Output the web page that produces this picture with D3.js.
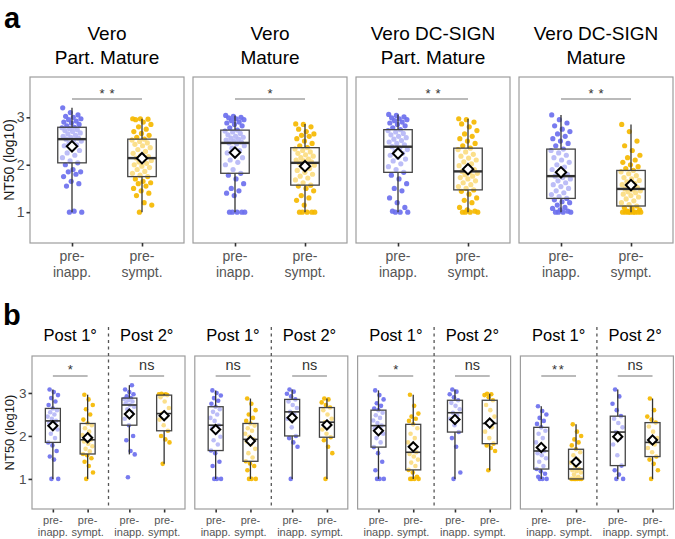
<!DOCTYPE html>
<html><head><meta charset="utf-8">
<script src="https://cdn.jsdelivr.net/npm/d3@7"></script>
<style>body{margin:0;background:#fff} svg{display:block;font-family:"Liberation Sans",Arial,sans-serif}</style>
</head><body><svg id="c" width="675" height="539"></svg>
<script>
// ---------- labels ----------
const groups = ["pre-inapp.", "pre-sympt."];
const groupLabelLines = [["pre-", "inapp."], ["pre-", "sympt."]];
const facetTitlesA = [["Vero", "Part. Mature"], ["Vero", "Mature"], ["Vero DC-SIGN", "Part. Mature"], ["Vero DC-SIGN", "Mature"]];
const periodTitles = ["Post 1°", "Post 2°"];
const yTicks = [1, 2, 3];
const yTitle = "NT50 (log10)";
const sigA = ["**", "*", "**", "**"];
const sigB = [["*", "ns"], ["ns", "ns"], ["*", "ns"], ["**", "ns"]];

// ---------- panel a values (NT50, log10) ----------
const aVeroPartInapp = [1.0,1.0,1.02,1.55,1.6,1.65,1.75,1.8,1.85,1.85,1.9,2.0,2.04,2.08,2.15,2.2,2.25,2.3,2.35,2.4,2.42,2.45,2.5,2.52,2.54,2.56,2.58,2.6,2.62,2.65,2.67,2.7,2.72,2.74,2.76,2.78,2.79,2.82,2.85,2.88,2.9,2.92,2.95,2.97,3.0,3.02,3.05,3.1,3.2];
const aVeroPartSympt = [1.0,1.15,1.2,1.35,1.4,1.45,1.5,1.55,1.6,1.62,1.65,1.7,1.75,1.78,1.82,1.86,1.9,1.94,1.97,2.0,2.03,2.06,2.09,2.12,2.14,2.17,2.2,2.24,2.28,2.32,2.36,2.4,2.43,2.46,2.49,2.52,2.54,2.58,2.62,2.66,2.7,2.75,2.8,2.85,2.9,2.95,2.96,2.97,2.97];
const aVeroMatInapp = [1.0,1.0,1.0,1.0,1.0,1.35,1.4,1.45,1.5,1.6,1.7,1.78,1.82,1.9,2.0,2.05,2.1,2.15,2.2,2.25,2.3,2.35,2.4,2.44,2.46,2.48,2.5,2.52,2.54,2.56,2.58,2.6,2.63,2.66,2.69,2.71,2.73,2.78,2.82,2.85,2.88,2.9,2.93,2.95,2.97,2.99,3.0,3.02,3.04];
const aVeroMatSympt = [1.0,1.0,1.0,1.0,1.0,1.15,1.25,1.3,1.35,1.45,1.5,1.55,1.57,1.62,1.68,1.72,1.76,1.8,1.84,1.88,1.92,1.96,1.99,2.02,2.04,2.06,2.08,2.1,2.12,2.15,2.18,2.21,2.24,2.27,2.3,2.33,2.36,2.4,2.45,2.5,2.55,2.6,2.62,2.65,2.7,2.75,2.8,2.85,2.86];
const aDcPartInapp = [1.0,1.0,1.0,1.02,1.1,1.2,1.3,1.45,1.5,1.6,1.7,1.78,1.84,1.9,1.96,2.02,2.08,2.12,2.16,2.2,2.24,2.28,2.32,2.35,2.38,2.42,2.45,2.48,2.51,2.54,2.57,2.6,2.63,2.66,2.69,2.72,2.74,2.78,2.82,2.85,2.88,2.9,2.93,2.95,2.97,2.99,3.01,3.04,3.06];
const aDcPartSympt = [1.0,1.0,1.0,1.0,1.02,1.05,1.1,1.2,1.25,1.3,1.38,1.44,1.47,1.5,1.54,1.58,1.62,1.66,1.7,1.73,1.76,1.79,1.82,1.84,1.86,1.9,1.94,1.98,2.02,2.06,2.1,2.14,2.18,2.22,2.27,2.32,2.35,2.4,2.45,2.5,2.55,2.6,2.65,2.72,2.8,2.86,2.9,2.95,2.97];
const aDcMatInapp = [1.0,1.0,1.0,1.0,1.02,1.05,1.08,1.1,1.15,1.2,1.22,1.26,1.29,1.33,1.37,1.41,1.45,1.5,1.54,1.58,1.62,1.66,1.7,1.73,1.76,1.8,1.85,1.9,1.95,2.0,2.05,2.1,2.15,2.2,2.25,2.3,2.33,2.4,2.45,2.5,2.55,2.6,2.65,2.7,2.75,2.82,2.88,2.95,3.05];
const aDcMatSympt = [1.0,1.0,1.0,1.0,1.0,1.0,1.0,1.0,1.02,1.05,1.08,1.1,1.13,1.16,1.2,1.24,1.28,1.32,1.35,1.38,1.41,1.43,1.45,1.47,1.49,1.52,1.55,1.58,1.61,1.64,1.67,1.7,1.73,1.77,1.81,1.85,1.88,1.92,1.96,2.0,2.05,2.1,2.15,2.2,2.3,2.4,2.5,2.7,2.85];

// ---------- panel b values ----------
const bVeroPartP1Inapp = [1.0,1.0,1.45,1.52,1.65,1.78,1.85,1.95,2.05,2.15,2.25,2.3,2.35,2.4,2.45,2.5,2.55,2.6,2.64,2.72,2.8,2.88,2.95,3.02,3.08];
const bVeroPartP1Sympt = [1.0,1.15,1.3,1.4,1.48,1.55,1.58,1.64,1.7,1.76,1.82,1.87,1.91,1.96,2.02,2.1,2.18,2.25,2.29,2.38,2.5,2.62,2.72,2.85,2.96];
const bVeroPartP2Inapp = [1.04,1.57,1.65,1.9,2.0,2.25,2.4,2.55,2.62,2.68,2.72,2.76,2.8,2.83,2.86,2.88,2.92,2.97,3.02,3.08,3.18];
const bVeroPartP2Sympt = [1.35,1.85,1.92,2.0,2.12,2.25,2.38,2.45,2.52,2.65,2.8,2.9,2.95,2.96,2.97,2.97,2.98];
const bVeroMatP1Inapp = [1.0,1.0,1.0,1.3,1.4,1.6,1.66,1.8,1.9,1.98,2.08,2.18,2.25,2.35,2.42,2.5,2.56,2.62,2.68,2.75,2.82,2.88,2.94,3.0,3.06];
const bVeroMatP1Sympt = [1.0,1.0,1.0,1.2,1.3,1.36,1.41,1.5,1.6,1.7,1.8,1.87,1.92,1.98,2.05,2.12,2.18,2.24,2.29,2.35,2.42,2.5,2.6,2.75,2.87];
const bVeroMatP2Inapp = [1.0,1.75,1.85,1.95,2.0,2.2,2.4,2.5,2.56,2.65,2.72,2.8,2.85,2.92,2.98,3.03,3.08];
const bVeroMatP2Sympt = [1.0,1.6,1.75,1.9,1.97,2.05,2.15,2.25,2.32,2.4,2.5,2.6,2.66,2.72,2.78,2.85,2.87];
const bDcPartP1Inapp = [1.0,1.0,1.0,1.2,1.4,1.6,1.74,1.85,1.95,2.05,2.12,2.18,2.24,2.3,2.36,2.42,2.48,2.54,2.6,2.64,2.7,2.76,2.85,2.95,3.06];
const bDcPartP1Sympt = [1.0,1.0,1.0,1.0,1.05,1.15,1.21,1.3,1.38,1.45,1.52,1.58,1.62,1.72,1.85,1.95,2.05,2.18,2.27,2.35,2.4,2.45,2.52,2.7,2.96];
const bDcPartP2Inapp = [1.0,1.15,1.75,1.95,2.09,2.25,2.4,2.48,2.54,2.62,2.7,2.77,2.83,2.9,2.97,3.03,3.08];
const bDcPartP2Sympt = [1.2,1.65,1.72,1.78,1.82,1.95,2.1,2.2,2.29,2.45,2.6,2.72,2.83,2.9,2.95,2.97,2.98];
const bDcMatP1Inapp = [1.0,1.0,1.0,1.05,1.12,1.18,1.23,1.3,1.4,1.48,1.55,1.6,1.65,1.75,1.85,1.95,2.05,2.12,2.2,2.28,2.35,2.42,2.5,2.58,2.69];
const bDcMatP1Sympt = [1.0,1.0,1.0,1.0,1.0,1.0,1.0,1.05,1.1,1.15,1.18,1.2,1.23,1.3,1.38,1.45,1.55,1.62,1.69,1.78,1.85,1.92,2.0,2.1,2.27];
const bDcMatP2Inapp = [1.0,1.0,1.1,1.2,1.31,1.55,1.8,1.95,2.09,2.2,2.3,2.4,2.46,2.6,2.75,2.92,3.08];
const bDcMatP2Sympt = [1.0,1.2,1.35,1.45,1.52,1.62,1.72,1.8,1.85,1.95,2.1,2.22,2.31,2.38,2.45,2.6,2.87];

const panelAData = [
  [aVeroPartInapp, aVeroPartSympt], [aVeroMatInapp, aVeroMatSympt],
  [aDcPartInapp, aDcPartSympt], [aDcMatInapp, aDcMatSympt]];
const panelBData = [
  [[bVeroPartP1Inapp, bVeroPartP1Sympt], [bVeroPartP2Inapp, bVeroPartP2Sympt]],
  [[bVeroMatP1Inapp, bVeroMatP1Sympt], [bVeroMatP2Inapp, bVeroMatP2Sympt]],
  [[bDcPartP1Inapp, bDcPartP1Sympt], [bDcPartP2Inapp, bDcPartP2Sympt]],
  [[bDcMatP1Inapp, bDcMatP1Sympt], [bDcMatP2Inapp, bDcMatP2Sympt]]];

// ---------- drawing ----------
const colors = ["#6c70ee", "#f5b800"];
const svg = d3.select("#c");
const font = '"Liberation Sans", Arial, sans-serif';

function stats(v) {
  const s = v.slice().sort(d3.ascending);
  const q1 = d3.quantile(s, 0.25), med = d3.quantile(s, 0.5), q3 = d3.quantile(s, 0.75);
  const iqr = q3 - q1;
  const lo = d3.min(s.filter(d => d >= q1 - 1.5 * iqr));
  const hi = d3.max(s.filter(d => d <= q3 + 1.5 * iqr));
  return {q1, med, q3, lo, hi, mean: d3.mean(s)};
}
function jit(i) { return ((i * 0.6180339887 + 0.37) % 1) * 2 - 1; }

function drawGroup(g, values, cx, y, o) {
  const st = stats(values);
  g.append("g").selectAll("circle").data(values).join("circle")
    .attr("cx", (d, i) => cx + jit(i) * o.jit)
    .attr("cy", d => y(d)).attr("r", o.r)
    .attr("fill", o.color).attr("fill-opacity", 0.92);
  const ln = (y1, y2) => g.append("line").attr("x1", cx).attr("x2", cx)
    .attr("y1", y(y1)).attr("y2", y(y2)).attr("stroke", "#333").attr("stroke-width", 1.3);
  ln(st.hi, st.q3); ln(st.q1, st.lo);
  g.append("rect").attr("x", cx - o.bw / 2).attr("y", y(st.q3))
    .attr("width", o.bw).attr("height", y(st.q1) - y(st.q3))
    .attr("fill", "#fff").attr("fill-opacity", 0.5)
    .attr("stroke", "#444").attr("stroke-width", 1.3);
  g.append("line").attr("x1", cx - o.bw / 2).attr("x2", cx + o.bw / 2)
    .attr("y1", y(st.med)).attr("y2", y(st.med)).attr("stroke", "#333").attr("stroke-width", o.medW);
  const s = o.dia;
  g.append("path").attr("transform", `translate(${cx},${y(st.mean)})`)
    .attr("d", `M0,${-s}L${s},0L0,${s}L${-s},0Z`)
    .attr("fill", "#fff").attr("stroke", "#000").attr("stroke-width", 2);
}

function styleYAxis(ax, fs) {
  ax.select(".domain").remove();
  ax.selectAll(".tick line").attr("stroke", "#333").attr("stroke-width", 1.6);
  ax.selectAll(".tick text").attr("font-size", fs).attr("fill", "#4d4d4d").attr("font-family", font);
}
function drawXAxis(g, x, yPos, fs, l1, l2) {
  const ax = g.append("g").attr("transform", `translate(0,${yPos})`)
    .call(d3.axisBottom(x).tickSize(3.5).tickFormat(""));
  ax.select(".domain").remove();
  ax.selectAll(".tick line").attr("stroke", "#333").attr("stroke-width", 1.6);
  groups.forEach((gname, k) => {
    [l1, l2].forEach((off, j) => g.append("text").attr("x", x(gname)).attr("y", yPos + off)
      .attr("text-anchor", "middle").attr("font-size", fs).attr("fill", "#555")
      .attr("font-family", font).text(groupLabelLines[k][j]));
  });
}

// ----- panel a -----
const aTop = 77, aBot = 243, aW = 154;
const yA = d3.scaleLinear().domain([0.35, 3.85]).range([aBot, aTop]);
panelAData.forEach((pair, i) => {
  const x0 = 30 + i * 163;
  const g = svg.append("g");
  const x = d3.scalePoint().domain(groups).range([x0, x0 + aW]).padding(0.6);
  pair.forEach((vals, k) => drawGroup(g, vals, x(groups[k]), yA,
    {jit: 10, r: 2.6, color: colors[k], bw: 28.5, dia: 5.2, medW: 2.4}));
  g.append("rect").attr("x", x0).attr("y", aTop).attr("width", aW).attr("height", aBot - aTop)
    .attr("fill", "none").attr("stroke", "#9d9d9d").attr("stroke-width", 1.2);
  // significance
  const ly = 99;
  g.append("line").attr("x1", x(groups[0])).attr("x2", x(groups[1])).attr("y1", ly).attr("y2", ly)
    .attr("stroke", "#777").attr("stroke-width", 1.2);
  g.append("text").attr("x", (x(groups[0]) + x(groups[1])) / 2).attr("y", ly - 1)
    .attr("text-anchor", "middle").attr("font-size", 13).attr("fill", "#333")
    .attr("letter-spacing", sigA[i].length > 1 ? 5 : 0)
    .attr("dx", sigA[i].length > 1 ? 2.5 : 0)
    .text(sigA[i]);
  // facet title
  facetTitlesA[i].forEach((line, j) => g.append("text").attr("x", x0 + aW / 2).attr("y", 40 + j * 23.5)
    .attr("text-anchor", "middle").attr("font-size", 19).attr("fill", "#000").text(line));
  drawXAxis(g, x, aBot, 14, 17.5, 34);
  if (i === 0) {
    const ax = g.append("g").attr("transform", `translate(${x0},0)`)
      .call(d3.axisLeft(yA).tickValues(yTicks).tickSize(3.5).tickPadding(2).tickFormat(d3.format("d")));
    styleYAxis(ax, 14);
  }
});
svg.append("text").attr("x", 9).attr("y", (aTop + aBot) / 2).attr("transform", `rotate(-90,9,${(aTop + aBot) / 2})`)
  .attr("dy", "0.35em").attr("text-anchor", "middle").attr("font-size", 14).attr("fill", "#1a1a1a").text(yTitle);
svg.append("text").attr("x", 4).attr("y", 28).attr("font-size", 29).attr("font-weight", "bold").text("a");

// ----- panel b -----
const bTop = 356, bBot = 509, bW = 153;
const yB = d3.scaleLinear().domain([0.3, 3.86]).range([bBot, bTop]);
panelBData.forEach((halves, i) => {
  const x0 = 32 + i * 162.8;
  const g = svg.append("g");
  halves.forEach((pair, h) => {
    const hx0 = x0 + h * bW / 2;
    const x = d3.scalePoint().domain(groups).range([hx0, hx0 + bW / 2]).padding(0.6);
    pair.forEach((vals, k) => drawGroup(g, vals, x(groups[k]), yB,
      {jit: 5.5, r: 2.3, color: colors[k], bw: 15, dia: 4.6, medW: 1.6}));
    const ly = 376, lab = sigB[i][h];
    const isStar = lab.indexOf("*") >= 0;
    g.append("line").attr("x1", x(groups[0])).attr("x2", x(groups[1])).attr("y1", ly).attr("y2", ly)
      .attr("stroke", "#777").attr("stroke-width", 1.2);
    g.append("text").attr("x", (x(groups[0]) + x(groups[1])) / 2)
      .attr("y", isStar ? ly - 2 : ly - 6.5)
      .attr("text-anchor", "middle").attr("font-size", isStar ? 13 : 14.5).attr("fill", "#333")
      .attr("letter-spacing", isStar && lab.length > 1 ? 1.5 : 0)
      .text(lab);
    g.append("text").attr("x", hx0 + bW / 4).attr("y", 340.5).attr("text-anchor", "middle")
      .attr("font-size", 16.5).attr("fill", "#000").text(periodTitles[h]);
    drawXAxis(g, x, bBot, 11, 15, 27);
  });
  g.append("rect").attr("x", x0).attr("y", bTop).attr("width", bW).attr("height", bBot - bTop)
    .attr("fill", "none").attr("stroke", "#9d9d9d").attr("stroke-width", 1.2);
  g.append("line").attr("x1", x0 + bW / 2).attr("x2", x0 + bW / 2).attr("y1", 327).attr("y2", bBot)
    .attr("stroke", "#555").attr("stroke-width", 1.3).attr("stroke-dasharray", "3,3.5");
  if (i === 0) {
    const ax = g.append("g").attr("transform", `translate(${x0},0)`)
      .call(d3.axisLeft(yB).tickValues(yTicks).tickSize(3.5).tickPadding(2).tickFormat(d3.format("d")));
    styleYAxis(ax, 13.5);
  }
});
svg.append("text").attr("x", 9.5).attr("y", (bTop + bBot) / 2).attr("transform", `rotate(-90,9.5,${(bTop + bBot) / 2})`)
  .attr("dy", "0.35em").attr("text-anchor", "middle").attr("font-size", 13).attr("fill", "#1a1a1a").text(yTitle);
svg.append("text").attr("x", 3).attr("y", 325).attr("font-size", 29).attr("font-weight", "bold").text("b");
</script></body></html>
